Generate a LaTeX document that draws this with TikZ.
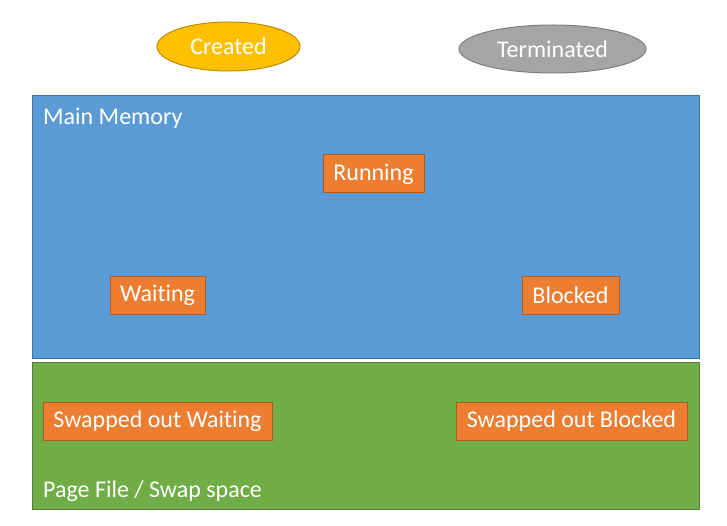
\documentclass[tikz,border=0pt]{standalone}
\usepackage{fontspec}
\setmainfont{Carlito}[Ligatures={NoCommon}]
\usetikzlibrary{positioning,shapes.geometric}
\definecolor{memblue}{HTML}{5B9BD5}
\definecolor{memblueline}{HTML}{41719C}
\definecolor{swapgreen}{HTML}{70AD47}
\definecolor{swapgreenline}{HTML}{507E32}
\definecolor{stateorange}{HTML}{ED7D31}
\definecolor{stateorangeline}{HTML}{AE5A21}
\definecolor{startgold}{HTML}{FFC000}
\definecolor{startgoldline}{HTML}{BC8C00}
\definecolor{endgray}{HTML}{A5A5A5}
\definecolor{endgrayline}{HTML}{7F7F7F}

\begin{document}
\begin{tikzpicture}[
    x=1pt, y=-1pt,
    every node/.style={font=\fontsize{24}{29}\selectfont, text=white},
    region/.style={rectangle, line width=1pt, minimum width=667pt, inner sep=0pt},
    state/.style={rectangle, draw=stateorangeline, fill=stateorange, line width=1pt,
      minimum height=38pt, inner sep=0pt},
    lifecycle/.style={ellipse, line width=1pt, inner sep=0pt},
    caption/.style={anchor=west, inner sep=0pt}
  ]
    \useasboundingbox (0,0) rectangle (727,526);

    \node[lifecycle, draw=startgoldline, fill=startgold, minimum width=143pt,
      minimum height=49pt] (created) at (228.5,46.5) {Created};
    \node[lifecycle, draw=endgrayline, fill=endgray, minimum width=187pt,
      minimum height=48pt] (terminated) at (552.5,49) {Terminated};

    \node[region, draw=memblueline, fill=memblue, minimum height=262pt]
      (memory) at (365.5,227) {};
    \node[region, draw=swapgreenline, fill=swapgreen, minimum height=147pt]
      (swap) at (365.5,435.5) {};

    \node[caption] (memlabel) at (43,118) {Main Memory};
    \node[caption] (swaplabel) at (43,491) {Page File / Swap space};

    \node[state, minimum width=101pt] (running) at (373.5,174) {Running};
    \node[state, minimum width=95pt] (waiting) at (157.5,295) {Waiting};
    \node[state, minimum width=97pt] (blocked) at (570.5,295) {Blocked};
    \node[state, minimum width=229pt] (swapwait) at (157.5,421) {Swapped out Waiting};
    \node[state, minimum width=231pt] (swapblock) at (571.5,421) {Swapped out Blocked};
  \end{tikzpicture}
\end{document}
